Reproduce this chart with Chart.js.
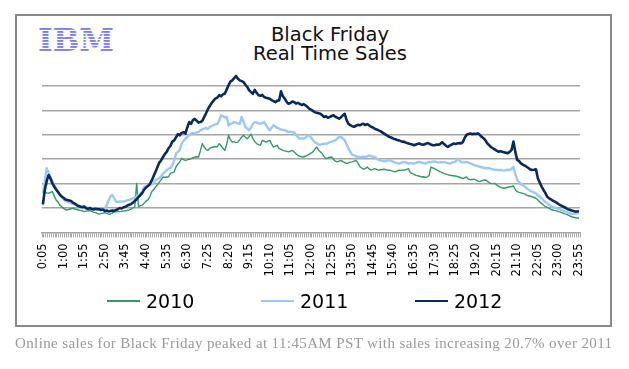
<!DOCTYPE html>
<html>
<head>
<meta charset="utf-8">
<script src="https://cdn.jsdelivr.net/npm/chart.js@4.4.1/dist/chart.umd.min.js"></script>
<style>
  body { margin: 0; background: #fff; width: 629px; height: 369px; position: relative; overflow: hidden; }
  #frame { position: absolute; left: 15px; top: 14px; width: 593px; height: 309px; border: 2px solid #888; }
  #logo { position: absolute; left: 37px; top: 27px; }
  #title { position: absolute; left: 230px; top: 25px; width: 200px; text-align: center;
           font: 19.5px/19px "DejaVu Sans"; color: #111; }
  #legend { position: absolute; left: 107px; top: 290px; height: 22px; display: flex; }
  #legend .item { display: flex; align-items: center; width: 154px; height: 22px; }
  #legend .swatch { display: inline-block; width: 33px; }
  #legend .txt { margin-left: 6px; font: 19px/22px "DejaVu Sans"; color: #000; }
  #caption { position: absolute; left: 0; top: 334px; }
  #chart { position: absolute; left: 0; top: 0; }
</style>
</head>
<body>
<div id="frame"></div>
<svg id="logo" width="80" height="28">
  <defs>
    <pattern id="stripes" patternUnits="userSpaceOnUse" x="0" y="1" width="8" height="3">
      <rect width="8" height="1.9" fill="#7c80ee"></rect>
    </pattern>
  </defs>
  <text x="1" y="24" textLength="76" lengthAdjust="spacingAndGlyphs" font-family="DejaVu Serif"
        font-weight="bold" font-size="31.5" fill="url(#stripes)">IBM</text>
</svg>
<div id="title">Black Friday<br>Real Time Sales</div>
<canvas id="chart" width="629" height="369"></canvas>
<div id="legend"></div>
<svg id="caption" width="629" height="24">
  <text x="15" y="14" textLength="597" lengthAdjust="spacing" font-family="Liberation Serif"
        font-size="15" fill="#999">Online sales for Black Friday peaked at 11:45AM PST with sales increasing 20.7% over 2011</text>
</svg>
<script>
// categorías: cada 5 minutos de 0:05 a 23:55
const times = [];
for (let m = 5; m < 1440; m += 5) {
    times.push(Math.floor(m / 60) + ':' + String(m % 60).padStart(2, '0'));
}
const labelEvery = 11;

// ventas relativas (unidades de la rejilla)
const sales2010 = [
    1.12, 1.67, 1.62, 1.60, 1.64, 1.67, 1.50, 1.33, 1.25, 1.12,
    1.05, 0.98, 0.94, 0.92, 0.95, 0.97, 0.99, 0.96, 0.94, 0.92,
    0.90, 0.88, 0.85, 0.87, 0.89, 0.89, 0.86, 0.83, 0.81, 0.78,
    0.75, 0.77, 0.79, 0.81, 0.78, 0.75, 0.75, 0.79, 0.85, 0.84,
    0.85, 0.85, 0.86, 0.88, 0.89, 0.90, 0.92, 0.95, 1.00, 1.05,
    2.01, 1.05, 1.10, 1.12, 1.20, 1.28, 1.33, 1.46, 1.66, 1.75,
    1.85, 1.94, 2.05, 2.15, 2.27, 2.25, 2.27, 2.27, 2.42, 2.45,
    2.48, 2.69, 2.80, 2.89, 3.04, 2.98, 2.95, 2.97, 3.00, 3.02,
    3.05, 3.08, 3.10, 3.09, 3.35, 3.64, 3.50, 3.40, 3.36, 3.45,
    3.48, 3.50, 3.52, 3.51, 3.64, 3.55, 3.45, 3.36, 3.60, 3.98,
    3.80, 3.70, 3.72, 3.68, 3.70, 3.80, 3.90, 3.98, 3.90, 3.84,
    3.92, 4.03, 3.84, 3.72, 3.64, 3.60, 3.57, 3.77, 3.74, 3.70,
    3.74, 3.77, 3.62, 3.50, 3.54, 3.57, 3.43, 3.40, 3.36, 3.34,
    3.32, 3.30, 3.33, 3.36, 3.30, 3.22, 3.16, 3.12, 3.10, 3.09,
    3.12, 3.16, 3.20, 3.25, 3.30, 3.40, 3.50, 3.38, 3.30, 3.23,
    3.10, 3.02, 3.05, 3.08, 3.09, 3.00, 2.92, 2.89, 2.92, 2.95,
    2.90, 2.86, 2.82, 2.85, 2.88, 2.89, 2.92, 2.95, 2.85, 2.70,
    2.64, 2.59, 2.62, 2.68, 2.60, 2.55, 2.58, 2.61, 2.58, 2.55,
    2.57, 2.58, 2.59, 2.57, 2.55, 2.55, 2.52, 2.50, 2.48, 2.52,
    2.55, 2.54, 2.56, 2.55, 2.58, 2.61, 2.45, 2.41, 2.38, 2.34,
    2.32, 2.30, 2.27, 2.28, 2.26, 2.27, 2.34, 2.68, 2.64, 2.61,
    2.56, 2.52, 2.48, 2.45, 2.41, 2.39, 2.37, 2.34, 2.33, 2.32,
    2.31, 2.29, 2.27, 2.24, 2.20, 2.24, 2.27, 2.18, 2.15, 2.17,
    2.18, 2.14, 2.11, 2.08, 2.11, 2.14, 2.15, 2.10, 2.04, 2.01,
    2.00, 2.01, 1.95, 1.90, 1.85, 1.83, 1.81, 1.83, 1.85, 1.87,
    1.88, 1.90, 1.75, 1.67, 1.64, 1.62, 1.60, 1.58, 1.53, 1.50,
    1.48, 1.46, 1.43, 1.40, 1.33, 1.25, 1.19, 1.12, 1.06, 1.03,
    0.98, 0.94, 0.92, 0.90, 0.88, 0.85, 0.83, 0.80, 0.77, 0.75,
    0.72, 0.68, 0.64, 0.62, 0.60, 0.59, 0.58
];

const sales2011 = [
    1.60, 2.10, 2.63, 2.45, 2.25, 2.12, 1.95, 1.80, 1.67, 1.55,
    1.45, 1.35, 1.30, 1.27, 1.24, 1.20, 1.17, 1.15, 1.13, 1.10,
    1.08, 1.05, 1.04, 1.02, 1.00, 0.99, 0.97, 0.96, 0.95, 0.95,
    0.96, 0.97, 0.98, 0.99, 1.10, 1.30, 1.48, 1.53, 1.40, 1.26,
    1.24, 1.27, 1.26, 1.26, 1.29, 1.31, 1.33, 1.36, 1.40, 1.43,
    1.46, 1.52, 1.58, 1.67, 1.86, 1.88, 1.92, 1.96, 1.98, 2.01,
    2.14, 2.18, 2.22, 2.30, 2.39, 2.48, 2.55, 2.60, 2.63, 2.75,
    2.95, 3.23, 3.30, 3.38, 3.64, 3.75, 3.84, 3.91, 3.98, 4.05,
    4.08, 4.05, 4.10, 4.11, 4.18, 4.22, 4.25, 4.28, 4.24, 4.32,
    4.36, 4.40, 4.43, 4.45, 4.58, 4.80, 4.76, 4.72, 4.73, 4.39,
    4.45, 4.48, 4.52, 4.50, 4.47, 4.45, 4.73, 4.55, 4.32, 4.25,
    4.18, 4.30, 4.45, 4.52, 4.50, 4.47, 4.45, 4.48, 4.52, 4.40,
    4.28, 4.18, 4.30, 4.39, 4.34, 4.28, 4.25, 4.22, 4.20, 4.18,
    4.15, 4.11, 4.13, 4.10, 4.11, 4.00, 3.90, 3.84, 3.86, 3.84,
    3.88, 3.95, 3.98, 3.90, 3.78, 3.70, 3.65, 3.61, 3.59, 3.62,
    3.64, 3.62, 3.66, 3.70, 3.72, 3.75, 3.77, 3.85, 3.91, 3.91,
    3.85, 3.77, 3.60, 3.43, 3.30, 3.18, 3.16, 3.12, 3.10, 3.09,
    3.08, 3.10, 3.09, 3.12, 3.16, 3.13, 3.10, 3.09, 3.02, 2.97,
    2.95, 2.93, 2.91, 2.93, 2.95, 2.95, 2.92, 2.89, 2.86, 2.84,
    2.82, 2.85, 2.88, 2.89, 2.86, 2.82, 2.84, 2.83, 2.82, 2.85,
    2.88, 2.89, 2.86, 2.84, 2.82, 2.86, 2.89, 2.87, 2.90, 2.91,
    2.89, 2.86, 2.88, 2.87, 2.89, 2.86, 2.84, 2.82, 2.85, 2.88,
    2.89, 3.02, 2.95, 2.89, 2.86, 2.88, 2.89, 2.86, 2.83, 2.80,
    2.76, 2.74, 2.72, 2.69, 2.67, 2.65, 2.63, 2.64, 2.63, 2.60,
    2.58, 2.56, 2.57, 2.55, 2.56, 2.54, 2.53, 2.55, 2.57, 2.56,
    2.60, 2.69, 2.40, 2.15, 2.05, 1.98, 1.94, 1.88, 1.81, 1.76,
    1.70, 1.67, 1.64, 1.60, 1.52, 1.46, 1.40, 1.32, 1.25, 1.19,
    1.13, 1.08, 1.05, 1.02, 0.99, 0.96, 0.93, 0.90, 0.87, 0.85,
    0.82, 0.79, 0.75, 0.76, 0.77, 0.78, 0.78
];

const sales2012 = [
    1.16, 1.74, 2.10, 2.35, 2.22, 2.01, 1.88, 1.76, 1.66, 1.55,
    1.47, 1.42, 1.35, 1.33, 1.31, 1.29, 1.22, 1.18, 1.12, 1.08,
    1.05, 1.03, 1.06, 0.99, 0.97, 1.00, 0.96, 0.94, 0.97, 0.95,
    0.95, 0.92, 0.94, 0.88, 0.90, 0.86, 0.88, 0.90, 0.88, 0.92,
    0.95, 1.00, 0.98, 1.03, 1.05, 1.10, 1.13, 1.16, 1.22, 1.29,
    1.36, 1.45, 1.53, 1.62, 1.75, 1.84, 1.90, 1.98, 2.12, 2.30,
    2.48, 2.66, 2.85, 2.95, 3.08, 3.21, 3.30, 3.45, 3.54, 3.72,
    3.77, 3.90, 4.03, 3.98, 4.08, 4.11, 4.05, 4.30, 4.52, 4.45,
    4.60, 4.65, 4.58, 4.50, 4.52, 4.57, 4.73, 4.88, 5.05, 5.18,
    5.30, 5.40, 5.48, 5.52, 5.62, 5.58, 5.66, 5.68, 5.85, 6.03,
    6.18, 6.23, 6.32, 6.41, 6.30, 6.23, 6.20, 6.16, 6.05, 5.96,
    5.82, 5.75, 5.68, 5.84, 5.72, 5.62, 5.60, 5.64, 5.55, 5.52,
    5.50, 5.48, 5.42, 5.38, 5.34, 5.40, 5.41, 5.78, 5.58, 5.48,
    5.35, 5.27, 5.30, 5.36, 5.34, 5.28, 5.31, 5.27, 5.22, 5.26,
    5.21, 5.15, 5.07, 5.03, 4.98, 4.93, 4.90, 4.88, 4.86, 4.80,
    4.73, 4.76, 4.70, 4.73, 4.77, 4.80, 4.74, 4.70, 4.66, 4.72,
    4.80, 4.86, 4.60, 4.45, 4.40, 4.35, 4.33, 4.37, 4.41, 4.39,
    4.43, 4.45, 4.40, 4.44, 4.39, 4.33, 4.30, 4.25, 4.22, 4.18,
    4.15, 4.10, 4.05, 4.00, 3.95, 3.91, 3.88, 3.84, 3.82, 3.79,
    3.77, 3.74, 3.72, 3.70, 3.67, 3.64, 3.62, 3.60, 3.57, 3.60,
    3.63, 3.64, 3.60, 3.59, 3.62, 3.66, 3.64, 3.60, 3.57, 3.57,
    3.60, 3.59, 3.63, 3.70, 3.62, 3.55, 3.50, 3.56, 3.60, 3.64,
    3.62, 3.64, 3.66, 3.65, 3.70, 3.88, 4.00, 4.03, 4.05, 4.02,
    4.04, 4.03, 4.06, 4.00, 3.92, 3.86, 3.78, 3.65, 3.58, 3.50,
    3.45, 3.40, 3.35, 3.31, 3.33, 3.31, 3.28, 3.26, 3.24, 3.30,
    3.38, 3.72, 3.30, 2.97, 2.92, 2.83, 2.78, 2.74, 2.69, 2.64,
    2.58, 2.56, 2.57, 2.59, 2.22, 2.05, 1.88, 1.74, 1.62, 1.46,
    1.40, 1.35, 1.30, 1.26, 1.22, 1.16, 1.12, 1.08, 1.04, 1.00,
    0.95, 0.93, 0.90, 0.88, 0.85, 0.86, 0.88
];

const gridColor = '#a6a6a6';

const ctx = document.getElementById('chart').getContext('2d');
const chart = new Chart(ctx, {
    type: 'line',
    data: {
        labels: times,
        datasets: [
            { label: '2010', data: sales2010, borderColor: '#339966', borderWidth: 1.4, order: 2 },
            { label: '2011', data: sales2011, borderColor: '#9cc8f8', borderWidth: 2.4, order: 1 },
            { label: '2012', data: sales2012, borderColor: '#0b2a5c', borderWidth: 2.6, order: 0 }
        ]
    },
    options: {
        responsive: false,
        animation: false,
        events: [],
        layout: { padding: { left: 42, right: 49, top: 61.6, bottom: 92.6 } },
        elements: {
            point: { radius: 0 },
            line: { tension: 0, fill: false, borderJoinStyle: 'round' }
        },
        plugins: {
            title: { display: false },
            tooltip: { enabled: false },
            legend: { display: false }
        },
        scales: {
            x: {
                type: 'category',
                offset: true,
                grid: { display: true, drawOnChartArea: false, drawTicks: true, tickLength: 5, color: gridColor, offset: true },
                border: { display: true, color: gridColor, width: 1.5 },
                ticks: {
                    autoSkip: false,
                    minRotation: 90,
                    maxRotation: 90,
                    padding: 6,
                    color: '#000',
                    font: { family: 'DejaVu Sans', size: 11.5 },
                    callback: (value, index) => index % labelEvery === 0 ? times[index] : ''
                },
                afterFit: (scale) => { scale.height = 44; }
            },
            y: {
                min: 0,
                max: 7,
                ticks: { display: false, stepSize: 1 },
                grid: {
                    drawTicks: false,
                    lineWidth: 1.5,
                    color: (c) => (c.tick && c.tick.value > 0 && c.tick.value < 7) ? gridColor : 'rgba(0,0,0,0)'
                },
                border: { display: false }
            }
        }
    }
});

// leyenda en HTML a partir de las etiquetas que genera Chart.js
const legendBox = document.getElementById('legend');
const legendItems = Chart.defaults.plugins.legend.labels.generateLabels(chart)
    .sort((a, b) => a.datasetIndex - b.datasetIndex);
legendItems.forEach(item => {
    const el = document.createElement('div');
    el.className = 'item';
    const sw = document.createElement('span');
    sw.className = 'swatch';
    sw.style.height = item.lineWidth + 'px';
    sw.style.background = item.strokeStyle;
    const tx = document.createElement('span');
    tx.className = 'txt';
    tx.textContent = item.text;
    el.appendChild(sw);
    el.appendChild(tx);
    legendBox.appendChild(el);
});
</script>
</body>
</html>
